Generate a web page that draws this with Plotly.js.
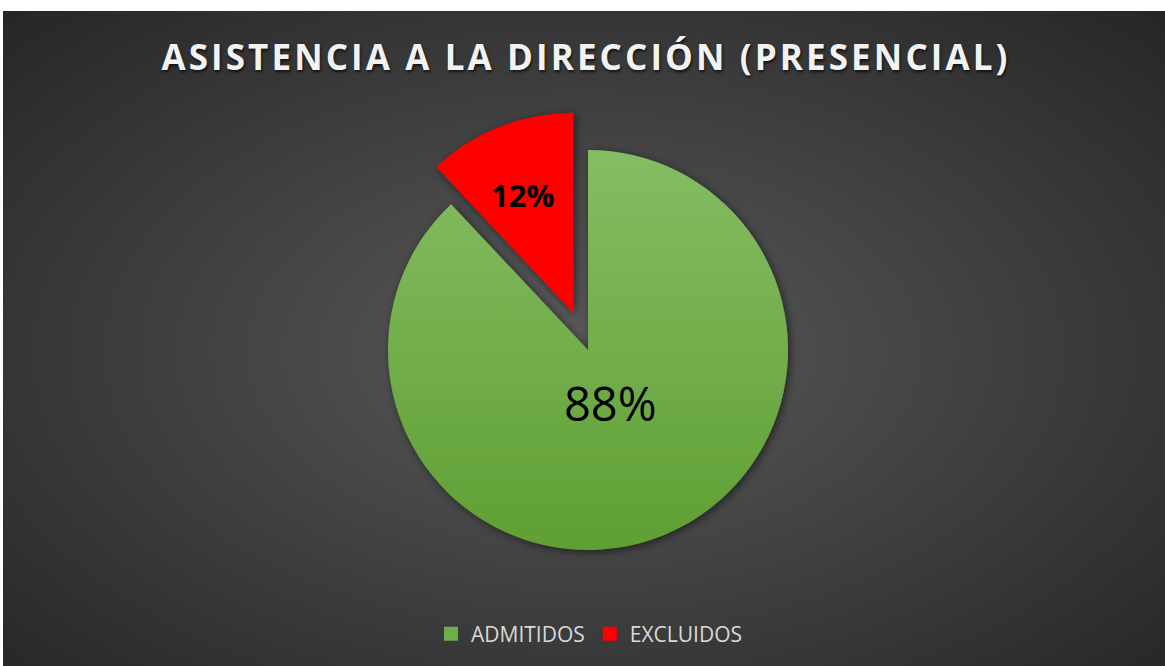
<!DOCTYPE html>
<html>
<head>
<meta charset="utf-8">
<script src="https://cdn.plot.ly/plotly-3.0.1.min.js"></script>
<style>
  html, body { margin: 0; padding: 0; background: #ffffff; }
  #bg { position: absolute; left: 3px; top: 11px; width: 1162px; height: 655px;
        background: radial-gradient(ellipse farthest-corner at 50% 52%, #5a5a5a 0%, #454545 40%, #262626 100%); }
  #chart { position: absolute; left: 0; top: 0; width: 1165px; height: 666px; }
  .gtitle { text-shadow: 1px 2px 3px rgba(0,0,0,0.7); letter-spacing: 3.1px; }
  .slice path.surface { filter: url(#pieShadow); stroke-width: 0 !important; }
  .slice:first-child path.surface { fill: url(#greenGrad) !important; }
</style>
</head>
<body>
<svg width="0" height="0" style="position:absolute">
  <defs>
    <filter id="pieShadow" x="-20%" y="-20%" width="140%" height="140%">
      <feDropShadow dx="2" dy="2" stdDeviation="4" flood-color="#000" flood-opacity="0.55"/>
    </filter>
    <linearGradient id="greenGrad" x1="0" y1="0" x2="0" y2="1">
      <stop offset="0" stop-color="#85bd63"/>
      <stop offset="1" stop-color="#5f9f33"/>
    </linearGradient>
  </defs>
</svg>
<div id="bg"></div>
<div id="chart"></div>
<script>
const categories = ["ADMITIDOS", "EXCLUIDOS"];
const values = [88, 12];
const sliceColors = ["#70ad47", "#ff0000"];
const pulls = [0, 0.2];
const chartTitle = "ASISTENCIA A LA DIRECCIÓN (PRESENCIAL)";

const W = 1165, H = 666;
const pieCx = 588, pieTop = 110, pieBottom = 590;

const total = values.reduce((a, b) => a + b, 0);
const pctText = values.map(v => Math.round(100 * v / total) + "%");

const trace = {
  type: "pie",
  labels: categories,
  values: values,
  sort: false,
  direction: "clockwise",
  rotation: 0,
  pull: pulls,
  marker: { colors: sliceColors, line: { width: 2, color: sliceColors } },
  textinfo: "none",
  hoverinfo: "label+percent",
  domain: { x: [(pieCx - 300) / W, (pieCx + 300) / W], y: [(H - pieBottom) / H, (H - pieTop) / H] }
};

const layout = {
  width: W, height: H,
  margin: { l: 0, r: 0, t: 0, b: 0 },
  paper_bgcolor: "rgba(0,0,0,0)",
  plot_bgcolor: "rgba(0,0,0,0)",
  title: {
    text: "<b>" + chartTitle + "</b>",
    font: { family: "Open Sans", size: 35, color: "#f2f2f2" },
    x: 0.503, xanchor: "center", y: 1 - 58 / H, yanchor: "middle"
  },
  annotations: [
    { text: pctText[0], xref: "paper", yref: "paper", x: 610 / W, y: 1 - 403 / H,
      xanchor: "center", yanchor: "middle", showarrow: false,
      font: { family: "Open Sans", size: 47, color: "#000000" } },
    { text: "<b>" + pctText[1] + "</b>", xref: "paper", yref: "paper", x: 522 / W, y: 1 - 195 / H,
      xanchor: "center", yanchor: "middle", showarrow: false,
      font: { family: "Open Sans", size: 31, color: "#000000" } }
  ],
  showlegend: true,
  legend: {
    orientation: "h", x: 0.506, xanchor: "center", y: (H - 634) / H, yanchor: "middle",
    font: { family: "Open Sans", size: 21, color: "#d9d9d9" },
    bgcolor: "rgba(0,0,0,0)", itemclick: false
  }
};

Plotly.newPlot("chart", [trace], layout, { displayModeBar: false, staticPlot: true });
</script>
</body>
</html>
